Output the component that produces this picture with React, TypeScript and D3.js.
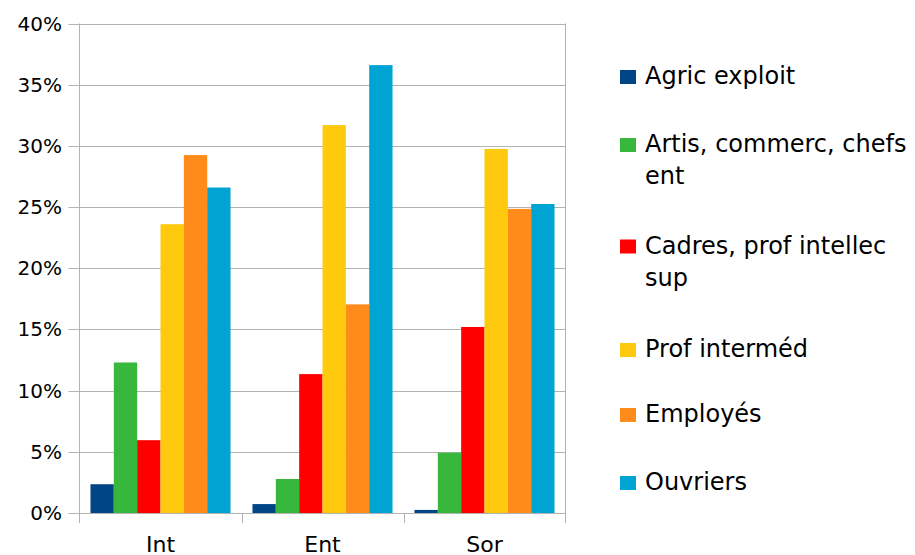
import React, { useEffect, useRef } from 'react';
import * as d3 from 'd3';

const categories = ['Int', 'Ent', 'Sor'];
const seriesNames = [
  'Agric exploit',
  'Artis, commerc, chefs ent',
  'Cadres, prof intellec sup',
  'Prof interméd',
  'Employés',
  'Ouvriers',
];
const legendLines = [
  ['Agric exploit'],
  ['Artis, commerc, chefs', 'ent'],
  ['Cadres, prof intellec', 'sup'],
  ['Prof interméd'],
  ['Employés'],
  ['Ouvriers'],
];
// values per series, one per category (Int, Ent, Sor), in %
const agric = [2.35, 0.73, 0.25];
const artis = [12.3, 2.78, 4.93];
const cadres = [5.95, 11.35, 15.2];
const profInter = [23.6, 31.7, 29.75];
const employes = [29.25, 17.05, 24.85];
const ouvriers = [26.6, 36.6, 25.25];
const seriesValues = [agric, artis, cadres, profInter, employes, ouvriers];
const yTicks = [0, 5, 10, 15, 20, 25, 30, 35, 40];
const colors = ['#004586', '#37b83c', '#ff0000', '#ffc90e', '#ff8c1a', '#00a4d3'];

const App = () => {
  const chartRef = useRef<HTMLDivElement>(null);

  useEffect(() => {
    document.body.style.margin = '0';
    d3.select(chartRef.current).selectAll('*').remove();

    const W = 915;
    const H = 555;
    const left = 79.5;
    const right = 565.5;
    const top = 23.5;
    const bottom = 513;
    const font = '"DejaVu Sans", sans-serif';

    const svg = d3.select(chartRef.current)
      .append('svg')
      .attr('width', W)
      .attr('height', H)
      .style('display', 'block')
      .style('background', '#fff');

    const x = d3.scaleBand().domain(categories).range([left, right]).paddingInner(0).paddingOuter(0);
    const x1 = d3.scaleBand<number>()
      .domain(d3.range(seriesNames.length))
      .range([0, x.bandwidth()])
      .paddingOuter(0.47)
      .paddingInner(0);
    const y = d3.scaleLinear().domain([0, 40]).range([bottom, top]);

    // gridlines + left ticks
    svg.append('g')
      .selectAll('line')
      .data(yTicks)
      .enter()
      .append('line')
      .attr('x1', left - 11)
      .attr('x2', right)
      .attr('y1', d => Math.round(y(d)) + 0.5)
      .attr('y2', d => Math.round(y(d)) + 0.5)
      .attr('stroke', '#b3b3b3')
      .attr('stroke-width', 1);

    // y axis line and right border
    svg.append('line')
      .attr('x1', left).attr('x2', left)
      .attr('y1', top).attr('y2', bottom + 10)
      .attr('stroke', '#b3b3b3');
    svg.append('line')
      .attr('x1', right).attr('x2', right)
      .attr('y1', top).attr('y2', bottom + 10)
      .attr('stroke', '#b3b3b3');

    // category ticks
    svg.append('g')
      .selectAll('line')
      .data(categories.slice(1))
      .enter()
      .append('line')
      .attr('x1', d => Math.round(x(d)!) + 0.5)
      .attr('x2', d => Math.round(x(d)!) + 0.5)
      .attr('y1', bottom)
      .attr('y2', bottom + 10)
      .attr('stroke', '#b3b3b3');

    // y labels
    svg.append('g')
      .selectAll('text')
      .data(yTicks)
      .enter()
      .append('text')
      .attr('x', 62)
      .attr('y', d => y(d) + 7)
      .attr('text-anchor', 'end')
      .attr('font-family', font)
      .attr('font-size', 20)
      .attr('fill', '#000')
      .text(d => `${d}%`);

    // x labels
    svg.append('g')
      .selectAll('text')
      .data(categories)
      .enter()
      .append('text')
      .attr('x', d => x(d)! + x.bandwidth() / 2)
      .attr('y', 552)
      .attr('text-anchor', 'middle')
      .attr('font-family', font)
      .attr('font-size', 22)
      .attr('fill', '#000')
      .text(d => d);

    // bars
    seriesValues.forEach((vals, si) => {
      svg.append('g')
        .selectAll('rect')
        .data(vals)
        .enter()
        .append('rect')
        .attr('x', (d, i) => x(categories[i])! + x1(si)!)
        .attr('width', x1.bandwidth())
        .attr('y', d => y(d))
        .attr('height', d => bottom - y(d))
        .attr('fill', colors[si]);
    });

    // legend
    const rowY = [77, 145, 246.5, 350, 415, 483];
    const leg = svg.append('g');
    legendLines.forEach((lines, i) => {
      leg.append('rect')
        .attr('x', 620)
        .attr('y', rowY[i] - 7)
        .attr('width', 16)
        .attr('height', 14)
        .attr('fill', colors[i]);
      lines.forEach((ln, j) => {
        leg.append('text')
          .attr('x', 645)
          .attr('y', rowY[i] + 7 + j * 32)
          .attr('font-family', font)
          .attr('font-size', 24)
          .attr('fill', '#000')
          .text(ln);
      });
    });
  }, []);

  return <div ref={chartRef}></div>;
};

export default App;
